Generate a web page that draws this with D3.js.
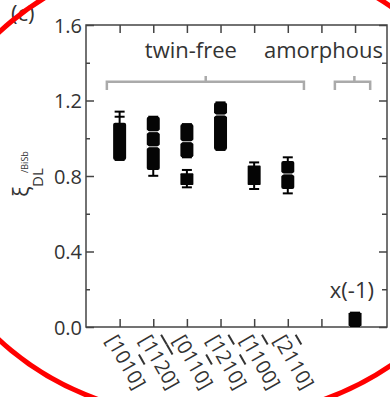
<!DOCTYPE html>
<html lang="en">
<head>
    <meta charset="UTF-8">
    <title>Damping-like efficiency box plot</title>
    <script src="https://d3js.org/d3.v7.min.js"></script>
    <style>
        body { margin: 0; background: #fff; }
        svg { display: block; font-family: 'Open Sans', sans-serif; }
        .axis text { font-family: 'Open Sans', sans-serif; fill: #333; }
        .bar { text-decoration: overline; }
    </style>
</head>
<body>
    <div id="chart"></div>
    <script>
        // categories (x tick positions 1..8, 7 is an empty slot)
        // a digit followed by U+0305 is drawn with an overbar
        const tickPositions = [1, 2, 3, 4, 5, 6, 7, 8];
        const tickLabels = ["[101\u03050]", "[1\u03051\u030520]", "[011\u03050]", "[1\u030521\u03050]", "[1\u0305100]", "[2\u0305110]", "", ""];
        const yMajor = [0, 0.4, 0.8, 1.2, 1.6];
        const yMinor = [0.2, 0.6, 1.0, 1.4];

        // one entry per box
        const boxPos     = [1, 2, 3, 3, 4, 5, 6, 8];
        const boxQ3      = [1.082, 1.114, 1.075, 0.814, 1.190, 0.855, 0.880, 0.076];
        const boxQ1      = [0.885, 0.832, 0.899, 0.752, 0.938, 0.752, 0.731, 0.005];
        const whiskerHi  = [1.141, 1.114, 1.075, 0.832, 1.190, 0.872, 0.899, 0.076];
        const whiskerLo  = [0.885, 0.801, 0.899, 0.740, 0.938, 0.731, 0.708, 0.005];
        const extraCaps  = [[1.114], [], [], [], [], [], [], []];
        const notchVals  = [[], [1.035, 0.955], [0.982], [], [1.123], [], [0.811], []];

        const groups = [
            { name: "twin-free", from: 0.62, to: 6.48, mid: 3.56, textAt: 1.75 },
            { name: "amorphous", from: 7.40, to: 8.45, mid: 7.98, textAt: 5.29 }
        ];

        const W = 390, H = 397;
        const svg = d3.select("#chart").append("svg").attr("width", W).attr("height", H);

        const x = d3.scaleLinear().domain([0, 8.95]).range([86, 387]);
        const y = d3.scaleLinear().domain([0, 1.6]).range([327, 25]);

        const axisColor = "#444";
        function styleAxis(g, labels) {
            g.select(".domain").remove();
            g.selectAll(".tick line").attr("stroke", axisColor).attr("stroke-width", 1.5);
            if (!labels) g.selectAll(".tick text").remove();
        }

        // left
        svg.append("g").attr("class", "axis").attr("transform", `translate(${x(0)},0)`)
            .call(d3.axisLeft(y).tickValues(yMajor).tickSize(-8).tickPadding(4).tickFormat(d3.format(".1f")))
            .call(g => styleAxis(g, true))
            .selectAll("text").attr("font-size", 20).attr("dy", "0.36em");
        svg.append("g").attr("transform", `translate(${x(0)},0)`)
            .call(d3.axisLeft(y).tickValues(yMinor).tickSize(-4))
            .call(g => styleAxis(g, false));
        // right
        svg.append("g").attr("transform", `translate(${x(8.95)},0)`)
            .call(d3.axisRight(y).tickValues(yMajor).tickSize(-8))
            .call(g => styleAxis(g, false));
        svg.append("g").attr("transform", `translate(${x(8.95)},0)`)
            .call(d3.axisRight(y).tickValues(yMinor).tickSize(-5))
            .call(g => styleAxis(g, false));
        // top / bottom
        svg.append("g").attr("transform", `translate(0,${y(1.6)})`)
            .call(d3.axisTop(x).tickValues(tickPositions).tickSize(-8))
            .call(g => styleAxis(g, false));
        const bottom = svg.append("g").attr("class", "axis").attr("transform", `translate(0,${y(0)})`)
            .call(d3.axisBottom(x).tickValues(tickPositions).tickSize(-8).tickFormat(""))
            .call(g => styleAxis(g, true));
        bottom.selectAll(".tick text")
            .attr("font-size", 20)
            .attr("text-anchor", "start")
            .attr("y", 0).attr("dy", 0)
            .attr("transform", "translate(-15,13) rotate(60)")
            .each(function (d, i) {
                const t = d3.select(this);
                const chars = Array.from(tickLabels[i]);
                chars.forEach((c, k) => {
                    if (c === "\u0305") return;
                    const ts = t.append("tspan").text(c);
                    if (chars[k + 1] === "\u0305") ts.attr("class", "bar");
                });
            });

        // frame
        svg.append("rect")
            .attr("x", x(0)).attr("y", y(1.6))
            .attr("width", x(8.95) - x(0)).attr("height", y(0) - y(1.6))
            .attr("fill", "none").attr("stroke", axisColor).attr("stroke-width", 1.5);

        // brackets
        const bracketY = 1.30, legY = 1.256, tipY = 1.33;
        groups.forEach(gr => {
            svg.append("path")
                .attr("d", `M${x(gr.from)},${y(legY)}V${y(bracketY)}H${x(gr.to)}V${y(legY)}M${x(gr.mid)},${y(bracketY)}V${y(tipY)}`)
                .attr("fill", "none").attr("stroke", "#aaa").attr("stroke-width", 2.5);
            svg.append("text")
                .attr("x", x(gr.textAt)).attr("y", y(1.425))
                .attr("font-size", 22).attr("fill", "#333")
                .text(gr.name);
        });

        // boxes
        const bw = 13, cw = 10;
        boxPos.forEach((p, i) => {
            const cx = x(p);
            const g = svg.append("g");
            g.append("line").attr("x1", cx).attr("x2", cx)
                .attr("y1", y(whiskerHi[i])).attr("y2", y(whiskerLo[i]))
                .attr("stroke", "#000").attr("stroke-width", 2);
            [whiskerHi[i], whiskerLo[i]].concat(extraCaps[i]).forEach(v => {
                g.append("line").attr("x1", cx - cw / 2).attr("x2", cx + cw / 2)
                    .attr("y1", y(v)).attr("y2", y(v))
                    .attr("stroke", "#000").attr("stroke-width", 2);
            });
            const h = y(boxQ1[i]) - y(boxQ3[i]);
            g.append("rect")
                .attr("x", cx - bw / 2).attr("y", y(boxQ3[i]))
                .attr("width", bw).attr("height", h)
                .attr("rx", h > 20 ? 2 : 0.8).attr("fill", "#050505");
            notchVals[i].forEach(v => {
                const yy = y(v);
                g.append("line").attr("x1", cx - bw / 2).attr("x2", cx + bw / 2)
                    .attr("y1", yy).attr("y2", yy)
                    .attr("stroke", "#fff").attr("stroke-width", 0.8);
                [-1, 1].forEach(s => {
                    const ex = cx + s * (bw / 2 + 0.5);
                    g.append("path")
                        .attr("d", `M${ex},${yy - 2.5}L${ex - s * 3},${yy}L${ex},${yy + 2.5}Z`)
                        .attr("fill", "#fff");
                });
            });
        });

        // x(-1) note
        svg.append("text").attr("x", x(7.25)).attr("y", y(0.155))
            .attr("font-size", 22).attr("fill", "#333").text("x(-1)");

        // y label
        const yl = svg.append("g").attr("transform", "rotate(-90)").attr("fill", "#333");
        yl.append("text").attr("x", -197).attr("y", 29).attr("font-size", 22).text("\u03be");
        yl.append("text").attr("x", -187).attr("y", 43).attr("font-size", 15).text("DL");
        yl.append("text").attr("x", -173).attr("y", 28).attr("font-size", 9).text("/BiSb");

        // panel label
        svg.append("text").attr("x", 11).attr("y", 21).attr("font-size", 22).attr("fill", "#333").text("(c)");

        // red ellipse
        svg.append("ellipse")
            .attr("cx", 211).attr("cy", 186).attr("rx", 282).attr("ry", 233)
            .attr("fill", "none").attr("stroke", "#ff0000").attr("stroke-width", 5);
    </script>
</body>
</html>
